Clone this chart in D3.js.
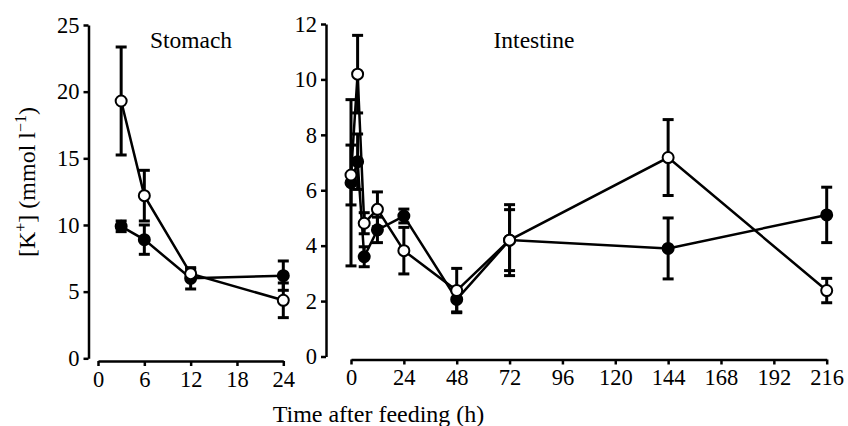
<!DOCTYPE html>
<html>
<head>
<meta charset="utf-8">
<script src="https://cdn.jsdelivr.net/npm/d3@7"></script>
<style>
html,body{margin:0;padding:0;background:#fff;}
svg text{font-family:"Liberation Serif","Times New Roman",serif !important;fill:#000;}
</style>
</head>
<body>
<svg id="chart" width="848" height="426"></svg>
<script>
// ---- data ----
const stomachTimes = [3, 6, 12, 24];
const stomachFilled = [9.9, 8.9, 6.0, 6.2];
const stomachFilledErr = [0.4, 1.1, 0.8, 1.1];
const stomachOpen = [19.3, 12.2, 6.35, 4.35];
const stomachOpenErr = [4.05, 1.9, 0.35, 1.3];

const intestineTimes = [0, 3, 6, 12, 24, 48, 72, 144, 216];
const intestineFilled = [6.27, 7.03, 3.6, 4.57, 5.07, 2.06, 4.2, 3.9, 5.11];
const intestineFilledErr = [3.0, 1.0, 0.36, 0.46, 0.25, 0.45, 1.28, 1.1, 1.0];
const intestineOpen = [6.55, 10.19, 4.81, 5.31, 3.82, 2.38, 4.2, 7.18, 2.38];
const intestineOpenErr = [1.08, 1.4, 0.38, 0.63, 0.84, 0.8, 1.1, 1.37, 0.44];

const stomachXTicks = [0, 6, 12, 18, 24];
const stomachYTicks = [0, 5, 10, 15, 20, 25];
const intestineXTicks = [0, 24, 48, 72, 96, 120, 144, 168, 192, 216];
const intestineYTicks = [0, 2, 4, 6, 8, 10, 12];

// ---- drawing ----
const svg = d3.select("#chart");
const FONT = '"Liberation Serif","Times New Roman",serif';
const FS = 22.5;

function panel(cfg) {
  const x = d3.scaleLinear().domain(cfg.xDomain).range(cfg.xRange);
  const y = d3.scaleLinear().domain(cfg.yDomain).range(cfg.yRange);

  const yAxis = svg.append("g")
    .attr("transform", `translate(${cfg.yAxisX},0)`)
    .call(d3.axisLeft(y).tickValues(cfg.yTicks).tickSize(5).tickSizeOuter(0).tickPadding(4));
  const xAxis = svg.append("g")
    .attr("transform", `translate(0,${cfg.xAxisY})`)
    .call(d3.axisBottom(x).tickValues(cfg.xTicks).tickSize(5).tickSizeOuter(0).tickPadding(5));
  [yAxis, xAxis].forEach(a => {
    a.attr("font-family", null).attr("font-size", null);
    a.select(".domain").attr("stroke", "#000").attr("stroke-width", 2.5);
    a.selectAll(".tick line").attr("stroke", "#000").attr("stroke-width", 2.5);
    a.selectAll(".tick text").style("font-size", FS + "px").style("font-family", FONT).attr("fill", "#000");
  });

  const line = d3.line().x(d => x(d.t)).y(d => y(d.v));
  const series = [
    {vals: cfg.filled, errs: cfg.filledErr, fill: "#000"},
    {vals: cfg.open, errs: cfg.openErr, fill: "#fff"}
  ];
  const data = series.map(s => cfg.times.map((t, i) => ({t, v: s.vals[i], e: s.errs[i]})));

  series.forEach((s, k) => {
    const d = data[k];
    const g = svg.append("g");
    g.selectAll("line.eb").data(d).join("line")
      .attr("x1", p => x(p.t)).attr("x2", p => x(p.t))
      .attr("y1", p => y(p.v - p.e)).attr("y2", p => y(p.v + p.e))
      .attr("stroke", "#000").attr("stroke-width", 3);
    g.selectAll("line.capt").data(d).join("line")
      .attr("x1", p => x(p.t) - 5.5).attr("x2", p => x(p.t) + 5.5)
      .attr("y1", p => y(p.v + p.e)).attr("y2", p => y(p.v + p.e))
      .attr("stroke", "#000").attr("stroke-width", 3);
    g.selectAll("line.capb").data(d).join("line")
      .attr("x1", p => x(p.t) - 5.5).attr("x2", p => x(p.t) + 5.5)
      .attr("y1", p => y(p.v - p.e)).attr("y2", p => y(p.v - p.e))
      .attr("stroke", "#000").attr("stroke-width", 3);
  });
  series.forEach((s, k) => {
    const d = data[k];
    const g = svg.append("g");
    g.append("path").datum(d).attr("d", line)
      .attr("fill", "none").attr("stroke", "#000").attr("stroke-width", 2.5);
    g.selectAll("circle").data(d).join("circle")
      .attr("cx", p => x(p.t)).attr("cy", p => y(p.v)).attr("r", 5.5)
      .attr("fill", s.fill).attr("stroke", "#000").attr("stroke-width", 2);
  });

  svg.append("text").attr("x", cfg.titleX).attr("y", 48)
    .attr("text-anchor", "middle").style("font-size", "23.5px").text(cfg.title);
}

panel({
  title: "Stomach", titleX: 191,
  times: stomachTimes, filled: stomachFilled, filledErr: stomachFilledErr,
  open: stomachOpen, openErr: stomachOpenErr,
  xDomain: [0, 24], xRange: [98, 283.3], yDomain: [0, 25], yRange: [358.3, 25],
  yAxisX: 88.5, xAxisY: 361, xTicks: stomachXTicks, yTicks: stomachYTicks
});
panel({
  title: "Intestine", titleX: 534,
  times: intestineTimes, filled: intestineFilled, filledErr: intestineFilledErr,
  open: intestineOpen, openErr: intestineOpenErr,
  xDomain: [0, 216], xRange: [351, 826.7], yDomain: [0, 12], yRange: [356.5, 24],
  yAxisX: 326, xAxisY: 359.5, xTicks: intestineXTicks, yTicks: intestineYTicks
});

svg.append("text").attr("x", 378.5).attr("y", 422).attr("text-anchor", "middle")
  .style("font-size", "24px").text("Time after feeding (h)");

const yl = svg.append("text").attr("transform", "translate(35,182) rotate(-90)")
  .attr("text-anchor", "middle").style("font-size", "24px");
yl.append("tspan").text("[K");
yl.append("tspan").attr("dy", -9).style("font-size", "16px").text("+");
yl.append("tspan").attr("dy", 9).text("] (mmol l");
yl.append("tspan").attr("dy", -9).style("font-size", "16px").text("\u22121");
yl.append("tspan").attr("dy", 9).text(")");
</script>
</body>
</html>
